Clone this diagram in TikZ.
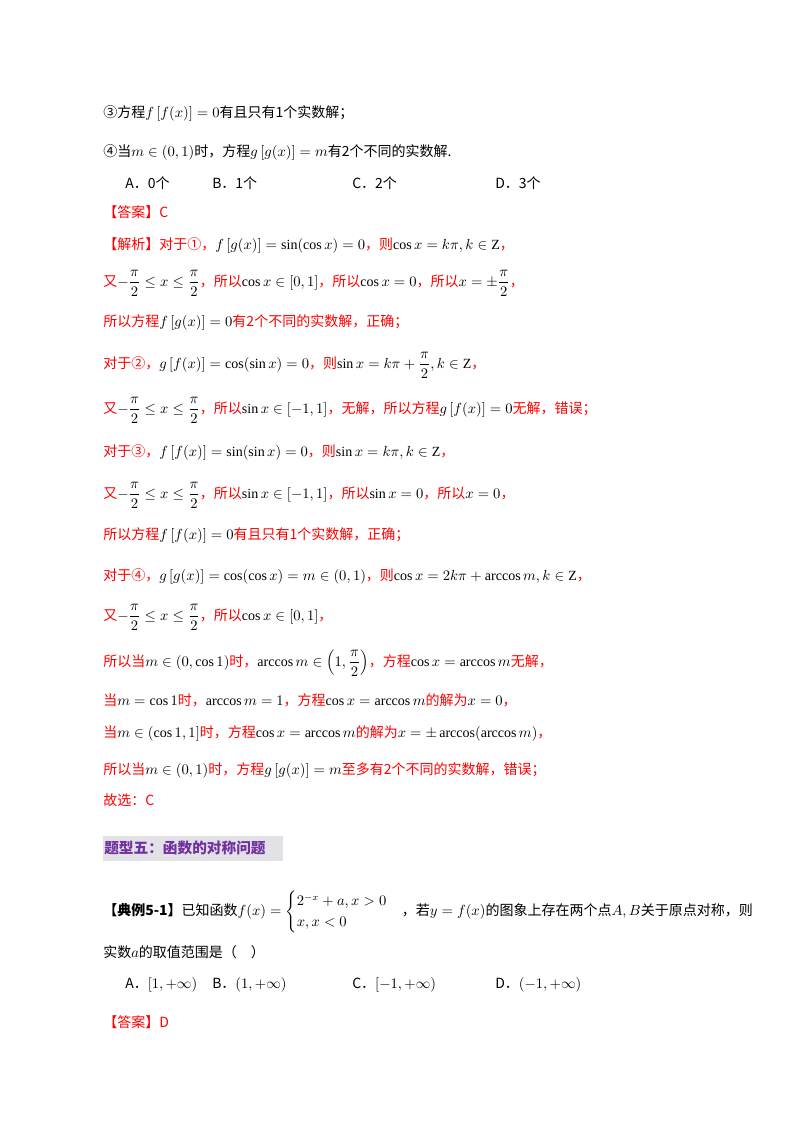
\documentclass[tikz,border=0pt]{standalone}
\usepackage{amsmath,amssymb}
\usepackage{fontspec}
\setmainfont{Liberation Serif}
\newfontfamily\cjk{Noto Sans CJK SC}
\definecolor{rd}{RGB}{255,0,0}
\definecolor{pu}{RGB}{112,48,160}
\definecolor{bx}{RGB}{225,225,230}
\newcommand{\R}[1]{{\color{rd}\cjk #1}}
\newcommand{\K}[1]{{\cjk #1}}
\newcommand{\hp}{\tfrac{\pi}{2}}
\begin{document}
\begin{tikzpicture}[x=0.75pt,y=-0.75pt,
  ln/.style={anchor=west,inner sep=0pt,font=\fontsize{10.5}{13}\selectfont}]
\useasboundingbox (0,0) rectangle (800,1132);
\fill[white] (0,0) rectangle (800,1132);
\node[ln] (l1) at (103,113) {\K{③方程}$f\left[f(x)\right]=0$\K{有且只有1个实数解；}};
\node[ln] (l2) at (103,152) {\K{④当}$m\in(0,1)$\K{时，方程}$g\left[g(x)\right]=m$\K{有2个不同的实数解.}};
\node[ln] (oa) at (125,183) {\K{A．0个}};
\node[ln] (ob) at (212,183) {\K{B．1个}};
\node[ln] (oc) at (352,183) {\K{C．2个}};
\node[ln] (od) at (495,183) {\K{D．3个}};
\node[ln] (ans) at (103,212) {\R{【答案】C}};
\node[ln] (s1) at (103,245) {\R{【解析】对于①，}$f\left[g(x)\right]=\sin(\cos x)=0$\R{，则}$\cos x=k\pi,k\in\mathrm{Z}$\R{，}};
\node[ln] (s2) at (103,283) {\R{又}$-\dfrac{\pi}{2}\le x\le\dfrac{\pi}{2}$\R{，所以}$\cos x\in[0,1]$\R{，所以}$\cos x=0$\R{，所以}$x=\pm\dfrac{\pi}{2}$\R{，}};
\node[ln] (s3) at (103,322) {\R{所以方程}$f\left[g(x)\right]=0$\R{有2个不同的实数解，正确；}};
\node[ln] (s4) at (103,365) {\R{对于②，}$g\left[f(x)\right]=\cos(\sin x)=0$\R{，则}$\sin x=k\pi+\dfrac{\pi}{2},k\in\mathrm{Z}$\R{，}};
\node[ln] (s5) at (103,410) {\R{又}$-\dfrac{\pi}{2}\le x\le\dfrac{\pi}{2}$\R{，所以}$\sin x\in[-1,1]$\R{，无解，所以方程}$g\left[f(x)\right]=0$\R{无解，错误；}};
\node[ln] (s6) at (103,452) {\R{对于③，}$f\left[f(x)\right]=\sin(\sin x)=0$\R{，则}$\sin x=k\pi,k\in\mathrm{Z}$\R{，}};
\node[ln] (s7) at (103,495) {\R{又}$-\dfrac{\pi}{2}\le x\le\dfrac{\pi}{2}$\R{，所以}$\sin x\in[-1,1]$\R{，所以}$\sin x=0$\R{，所以}$x=0$\R{，}};
\node[ln] (s8) at (103,535) {\R{所以方程}$f\left[f(x)\right]=0$\R{有且只有1个实数解，正确；}};
\node[ln] (s9) at (103,576) {\R{对于④，}$g\left[g(x)\right]=\cos(\cos x)=m\in(0,1)$\R{，则}$\cos x=2k\pi+\arccos m,k\in\mathrm{Z}$\R{，}};
\node[ln] (s10) at (103,617) {\R{又}$-\dfrac{\pi}{2}\le x\le\dfrac{\pi}{2}$\R{，所以}$\cos x\in[0,1]$\R{，}};
\node[ln] (s11) at (103,663) {\R{所以当}$m\in(0,\cos1)$\R{时，}$\arccos m\in\left(1,\dfrac{\pi}{2}\right)$\R{，方程}$\cos x=\arccos m$\R{无解，}};
\node[ln] (s12) at (103,700) {\R{当}$m=\cos1$\R{时，}$\arccos m=1$\R{，方程}$\cos x=\arccos m$\R{的解为}$x=0$\R{，}};
\node[ln] (s13) at (103,733) {\R{当}$m\in(\cos1,1]$\R{时，方程}$\cos x=\arccos m$\R{的解为}$x=\pm\arccos(\arccos m)$\R{，}};
\node[ln] (s14) at (103,770) {\R{所以当}$m\in(0,1)$\R{时，方程}$g\left[g(x)\right]=m$\R{至多有2个不同的实数解，错误；}};
\node[ln] (s15) at (103,800) {\R{故选：C}};
\fill[bx] (103,836) rectangle (283,861);
\node[ln,font=\fontsize{11}{13}\selectfont\bfseries] (tt) at (104,848) {{\color{pu}\cjk 题型五：函数的对称问题}};
\node[ln] (e1) at (103,912) {\K{\textbf{【典例5-1】}已知函数}$f(x)=\begin{cases}2^{-x}+a,x>0\\ x,x<0\end{cases}$\K{，若}$y=f(x)$\K{的图象上存在两个点}$A,B$\K{关于原点对称，则}};
\node[ln] (e2) at (103,952) {\K{实数}$a$\K{的取值范围是（\quad）}};
\node[ln] (ea) at (125,985) {\K{A．}$[1,+\infty)$};
\node[ln] (eb) at (212,985) {\K{B．}$(1,+\infty)$};
\node[ln] (ec) at (352,985) {\K{C．}$[-1,+\infty)$};
\node[ln] (ed) at (495,985) {\K{D．}$(-1,+\infty)$};
\node[ln] (ans2) at (103,1022) {\R{【答案】D}};
\end{tikzpicture}
\end{document}
